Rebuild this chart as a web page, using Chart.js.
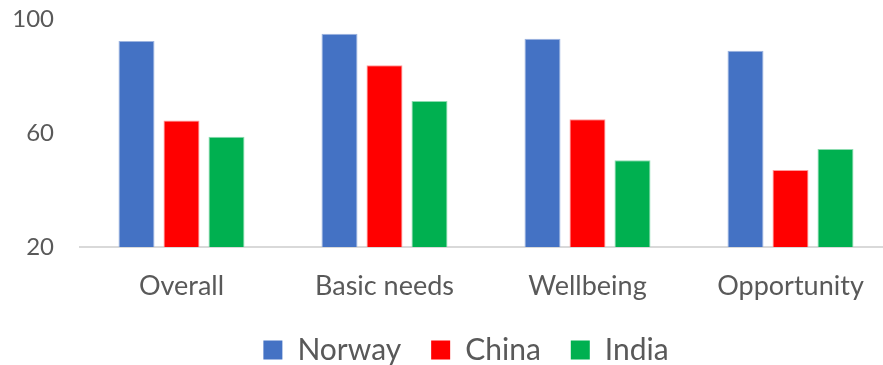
<!DOCTYPE html>
<html>
<head>
<meta charset="utf-8">
<script src="https://cdn.jsdelivr.net/npm/chart.js@4.4.1/dist/chart.umd.min.js"></script>
<style>
  html, body { margin: 0; padding: 0; background: #fff; overflow: hidden; }
  #wrap { width: 883px; height: 365px; overflow: hidden; position: relative; }
  canvas { display: block; }
</style>
</head>
<body>
<div id="wrap"><canvas id="c" width="892" height="365"></canvas></div>
<script>
// Social progress scores by dimension
const categories = ['Overall', 'Basic needs', 'Wellbeing', 'Opportunity'];
const norway = [92.3, 94.8, 93.1, 88.9];
const china  = [64.4, 83.8, 64.8, 47.0];
const india  = [58.7, 71.2, 50.4, 54.4];
const yTicks = [20, 60, 100];

const FONT = 'Lato';
const TEXT = '#595959';
const CANVAS_H = 365;
const PLOT_TOP = 19;       // y pixel of the 100 line
const PLOT_BOTTOM = 247;   // y pixel of the baseline
const LEGEND_BOX = 48;     // space reserved for the legend row
const LEGEND_MID = 350;    // vertical centre of the legend row
const LEGEND_SHIFT = 20;   // legend sits a little right of centre

// Keep the legend compact and place its row below the category labels
const legendPlacement = {
  id: 'legendPlacement',
  beforeLayout(chart) {
    const lg = chart.legend;
    if (lg && !lg._compact) {
      const fit = lg.fit.bind(lg);
      lg.fit = function () { fit(); this.height = LEGEND_BOX; };
      lg._compact = true;
    }
  },
  afterLayout(chart) {
    const lg = chart.legend;
    const pad = lg.options.labels.padding;
    const fs = lg.options.labels.font.size;
    lg.top = LEGEND_MID - pad - fs / 2;
    lg.bottom = CANVAS_H;
    lg.height = lg.bottom - lg.top;
    lg.left += LEGEND_SHIFT;
    lg.right += LEGEND_SHIFT;
  }
};

new Chart(document.getElementById('c'), {
  type: 'bar',
  data: {
    labels: categories,
    datasets: [
      { label: 'Norway', data: norway, backgroundColor: '#4472C4', borderColor: '#9db4e0', borderWidth: 1 },
      { label: 'China',  data: china,  backgroundColor: '#FF0000', borderColor: '#ff9a9a', borderWidth: 1 },
      { label: 'India',  data: india,  backgroundColor: '#00B050', borderColor: '#8cdcb0', borderWidth: 1 }
    ]
  },
  options: {
    responsive: false,
    animation: false,
    devicePixelRatio: 1,
    layout: { padding: { top: PLOT_TOP, left: 0, right: 0, bottom: 0 } },
    datasets: { bar: { barPercentage: 0.8, categoryPercentage: 0.665 } },
    scales: {
      x: {
        grid: { display: false, drawTicks: false },
        border: { display: true, color: '#d9d9d9', width: 2 },
        ticks: { color: TEXT, font: { family: FONT, size: 27 }, padding: 23, maxRotation: 0, autoSkip: false },
        afterFit: s => { s.height = CANVAS_H - PLOT_BOTTOM - LEGEND_BOX; }
      },
      y: {
        min: 20,
        max: 100,
        grid: { display: false, drawTicks: false },
        border: { display: false },
        ticks: { color: TEXT, font: { family: FONT, size: 24 }, padding: 26 },
        afterBuildTicks: s => { s.ticks = yTicks.map(v => ({ value: v })); },
        afterFit: s => { s.width = 80; s.paddingTop = 0; s.paddingBottom = 0; }
      }
    },
    plugins: {
      tooltip: { enabled: false },
      legend: {
        position: 'bottom',
        labels: {
          color: TEXT,
          font: { family: FONT, size: 30 },
          boxWidth: 19,
          boxHeight: 19,
          padding: 30,
          generateLabels: chart => Chart.defaults.plugins.legend.labels.generateLabels(chart)
            .map(item => Object.assign(item, { lineWidth: 0 }))
        }
      }
    }
  },
  plugins: [legendPlacement]
});
</script>
</body>
</html>
